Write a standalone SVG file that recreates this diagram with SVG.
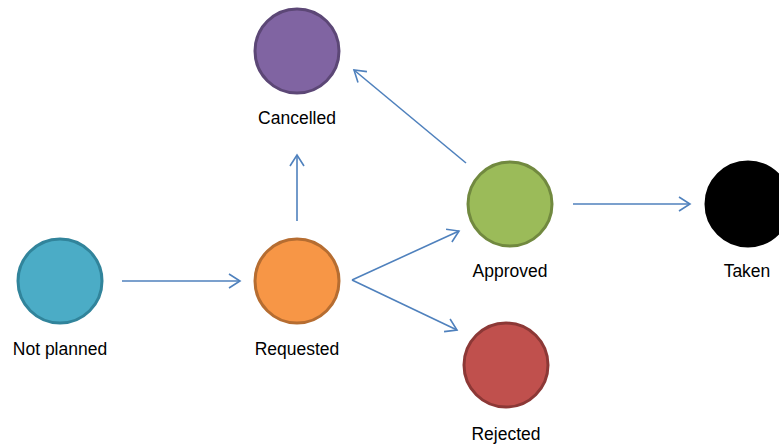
<svg xmlns="http://www.w3.org/2000/svg" width="779" height="444" viewBox="0 0 779 444">
<style>
.lbl{font-family:"Liberation Sans",Arial,sans-serif;font-size:17.5px;fill:#000;text-anchor:middle}
.edge{stroke:#4F81BD;stroke-width:1.6;fill:none;marker-end:url(#arr)}
.node{stroke-width:3}
</style>
<defs>
<marker id="arr" markerUnits="userSpaceOnUse" markerWidth="14" markerHeight="18" refX="12" refY="8" orient="auto" viewBox="0 0 14 16">
<path d="M1,1 L12,8 L1,15" fill="none" stroke="#4F81BD" stroke-width="1.6"/>
</marker>
</defs>
<rect width="779" height="444" fill="#fff"/>
<g id="connectors">
<line class="edge" x1="122" y1="281" x2="240" y2="281"/>
<line class="edge" x1="297" y1="221" x2="297" y2="155"/>
<line class="edge" x1="466" y1="163" x2="354" y2="70"/>
<line class="edge" x1="352" y1="280" x2="459" y2="231"/>
<line class="edge" x1="352" y1="280" x2="457" y2="330"/>
<line class="edge" x1="573" y1="204" x2="690" y2="204"/>
</g>
<g id="not-planned">
<circle class="node" cx="60" cy="281" r="42" fill="#4BACC6" stroke="#31849B"/>
<text class="lbl" x="60" y="355">Not planned</text>
</g>
<g id="requested">
<circle class="node" cx="297" cy="281" r="42" fill="#F79646" stroke="#B66D31"/>
<text class="lbl" x="297" y="355">Requested</text>
</g>
<g id="cancelled">
<circle class="node" cx="297" cy="51" r="42" fill="#8064A2" stroke="#5C4776"/>
<text class="lbl" x="297" y="124">Cancelled</text>
</g>
<g id="approved">
<circle class="node" cx="510" cy="204" r="42" fill="#9BBB59" stroke="#71893F"/>
<text class="lbl" x="510" y="277">Approved</text>
</g>
<g id="rejected">
<circle class="node" cx="506" cy="365" r="42" fill="#C0504D" stroke="#8C3836"/>
<text class="lbl" x="506" y="440">Rejected</text>
</g>
<g id="taken">
<circle class="node" cx="748" cy="204" r="42" fill="#000" stroke="#000"/>
<text class="lbl" x="747" y="277">Taken</text>
</g>
</svg>
